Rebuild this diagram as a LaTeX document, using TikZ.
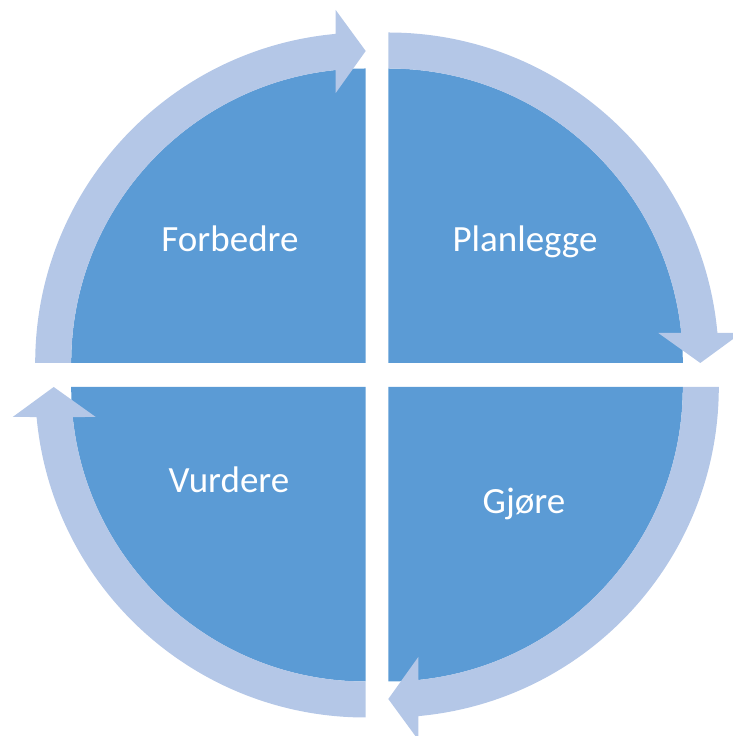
\documentclass[tikz,border=0pt]{standalone}
\usepackage{fontspec}
\setmainfont{Carlito}
\definecolor{piefill}{HTML}{5B9BD5}
\definecolor{arrowfill}{HTML}{B4C7E7}
\tikzset{
  piece/.style={fill=piefill, draw=none},
  cyclearrow/.style={fill=arrowfill, draw=none},
  quadtext/.style={text=white, anchor=base, inner sep=0pt, font=\fontsize{37}{44}\selectfont},
}
\newcommand\cyclequadrant[3]{%
  \begin{scope}[shift={(#1,#2)}, rotate=#3]
    \fill[piece] (0,0) -- (90:294.5) arc[start angle=90, end angle=180, radius=294.5] -- cycle;
    \fill[cyclearrow] (180:294.5) -- (180:330.5)
      arc[start angle=180, end angle=95.21, radius=330.5]
      -- (-30,353) -- (0,312) -- (-30,270)
      -- (95.85:294.5) arc[start angle=95.85, end angle=180, radius=294.5] -- cycle;
  \end{scope}}
\begin{document}
\begin{tikzpicture}[x=1pt, y=1pt]
  \useasboundingbox (0,0) rectangle (732,736);
  \cyclequadrant{365.7}{373}{0}
  \cyclequadrant{388.3}{373}{-90}
  \cyclequadrant{388.3}{349}{180}
  \cyclequadrant{365.7}{349}{90}
  \node[quadtext] (forbedre) at (230,484) {Forbedre};
  \node[quadtext] (planlegge) at (525,484) {Planlegge};
  \node[quadtext] (gjore) at (524,222) {Gjøre};
  \node[quadtext] (vurdere) at (229,243) {Vurdere};
\end{tikzpicture}
\end{document}
